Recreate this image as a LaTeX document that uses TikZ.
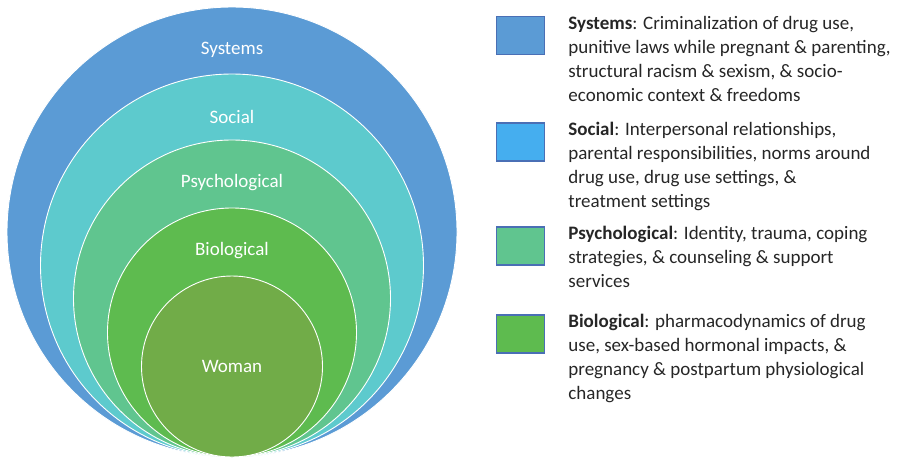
\documentclass[tikz,border=0pt]{standalone}
\usepackage{fontspec}
\setmainfont{Carlito}
\usepackage{xcolor}
\usetikzlibrary{positioning,calc}

\definecolor{sysblue}{HTML}{5B9BD5}
\definecolor{socteal}{HTML}{5DCACD}
\definecolor{psygreen}{HTML}{60C58F}
\definecolor{biogreen}{HTML}{5EBB4F}
\definecolor{womangreen}{HTML}{71AC48}
\definecolor{socblue}{HTML}{45AEEF}
\definecolor{keyedge}{HTML}{4A6FB5}

\begin{document}
\begin{tikzpicture}[
  x=1pt,y=-1pt,
  every node/.style={font=\fontsize{19}{24}\selectfont},
  ring/.style={circle,draw=white,line width=0.9pt,inner sep=0pt,fill=#1},
  lbl/.style={text=white,inner sep=0pt},
  key/.style={draw=keyedge,line width=1.4pt,fill=#1,minimum width=48pt,minimum height=38pt,inner sep=0pt},
  desc/.style={align=left,inner sep=0pt,text=black!85}
]
\useasboundingbox (0,0) rectangle (899,461);
% nested circles, all touching at the bottom
\node[ring=sysblue,minimum size=450pt] (systems) at (232,232) {};
\node[ring=socteal,minimum size=383pt] (social) at (232,265.5) {};
\node[ring=psygreen,minimum size=317pt] (psych) at (232,298.5) {};
\node[ring=biogreen,minimum size=249pt] (bio) at (232,332.5) {};
\node[ring=womangreen,minimum size=181pt] (woman) at (232,366.5) {};
\node[lbl] (syslbl) at ($(systems.north)+(0,43)$) {Systems};
\node[lbl] (soclbl) at ($(social.north)+(0,43)$) {Social};
\node[lbl] (psylbl) at ($(psych.north)+(0,43)$) {Psychological};
\node[lbl] (biolbl) at ($(bio.north)+(0,43)$) {Biological};
\node[lbl] (womanlbl) at (woman) {Woman};

% legend
\node[key=sysblue] (syskey) at (520.5,35.5) {};
\node[key=socblue] (sockey) at (520.5,142) {};
\node[key=psygreen] (psykey) at (520.5,246) {};
\node[key=biogreen] (biokey) at (520.5,334) {};
\node[desc,right=23pt of syskey.north east,anchor=north west] (systxt)
  {\textbf{Systems}: Criminalization of drug use,\\punitive laws while pregnant \& parenting,\\
   structural racism \& sexism, \& socio-\\economic context \& freedoms};
\node[desc,right=23pt of sockey.north east,anchor=north west] (soctxt)
  {\textbf{Social}: Interpersonal relationships,\\parental responsibilities, norms around\\
   drug use, drug use settings, \&\\treatment settings};
\node[desc,right=23pt of psykey.north east,anchor=north west] (psytxt)
  {\textbf{Psychological}: Identity, trauma, coping\\strategies, \& counseling \& support\\services};
\node[desc,right=23pt of biokey.north east,anchor=north west] (biotxt)
  {\textbf{Biological}: pharmacodynamics of drug\\use, sex-based hormonal impacts, \&\\
   pregnancy \& postpartum physiological\\changes};
\end{tikzpicture}
\end{document}
